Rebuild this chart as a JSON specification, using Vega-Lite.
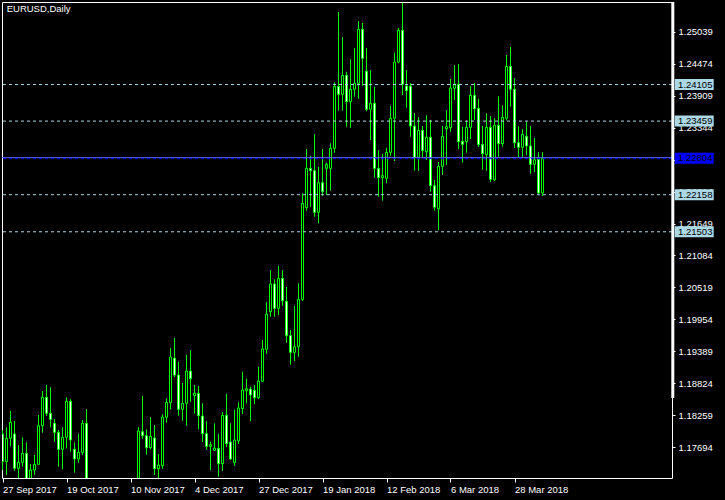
{
"$schema": "https://vega.github.io/schema/vega-lite/v6.json",
"width": 670, "height": 476,
"autosize": {"type": "none"},
"padding": {"left": 2, "top": 2, "right": 53, "bottom": 22},
"background": "#000000",
"config": {
"view": {"stroke": "#ffffff", "strokeWidth": 1},
"font": "Liberation Sans",
"axis": {"labelOverlap": false, "labelBound": false, "labelFlush": false, "grid": false, "domain": false},
"scale": {"continuousPadding": 0}
},
"title": {"text": "EURUSD,Daily", "anchor": "start", "frame": "group", "orient": "top", "offset": 0, "baseline": "alphabetic", "dy": 20.6, "dx": 4.7, "color": "#ffffff", "fontSize": 9.5, "fontWeight": "normal", "font": "Liberation Sans"},
"datasets": {
"candles": [
{"i":0,"o":1.17929,"h":1.17999,"l":1.17292,"c":1.17439},
{"i":1,"o":1.17439,"h":1.18047,"l":1.17204,"c":1.17853},
{"i":2,"o":1.17853,"h":1.18335,"l":1.17716,"c":1.18135},
{"i":3,"o":1.17929,"h":1.18158,"l":1.17280,"c":1.17322},
{"i":4,"o":1.17322,"h":1.17734,"l":1.17098,"c":1.17428},
{"i":5,"o":1.17428,"h":1.17870,"l":1.17351,"c":1.17587},
{"i":6,"o":1.17587,"h":1.17782,"l":1.16950,"c":1.17000},
{"i":7,"o":1.17000,"h":1.17398,"l":1.16880,"c":1.17292},
{"i":8,"o":1.17292,"h":1.17557,"l":1.17204,"c":1.17393},
{"i":9,"o":1.17393,"h":1.18264,"l":1.17393,"c":1.18075},
{"i":10,"o":1.18075,"h":1.18689,"l":1.17952,"c":1.18577},
{"i":11,"o":1.18577,"h":1.18795,"l":1.18247,"c":1.18294},
{"i":12,"o":1.18294,"h":1.18754,"l":1.18047,"c":1.18188},
{"i":13,"o":1.18118,"h":1.18194,"l":1.17792,"c":1.17959},
{"i":14,"o":1.17959,"h":1.17999,"l":1.17351,"c":1.17658},
{"i":15,"o":1.17658,"h":1.18047,"l":1.17305,"c":1.17870},
{"i":16,"o":1.17870,"h":1.18577,"l":1.17676,"c":1.18506},
{"i":17,"o":1.18506,"h":1.18542,"l":1.17616,"c":1.17822},
{"i":18,"o":1.17658,"h":1.17782,"l":1.17245,"c":1.17487},
{"i":19,"o":1.17487,"h":1.17929,"l":1.17421,"c":1.17605},
{"i":20,"o":1.17605,"h":1.18176,"l":1.17557,"c":1.18118},
{"i":21,"o":1.18118,"h":1.18370,"l":1.16400,"c":1.16540},
{"i":22,"o":1.16540,"h":1.16600,"l":1.15730,"c":1.16070},
{"i":23,"o":1.16070,"h":1.16460,"l":1.15970,"c":1.16240},
{"i":24,"o":1.16240,"h":1.16690,"l":1.16200,"c":1.16460},
{"i":25,"o":1.16460,"h":1.16700,"l":1.16190,"c":1.16190},
{"i":26,"o":1.16190,"h":1.16880,"l":1.16120,"c":1.16710},
{"i":27,"o":1.16710,"h":1.16870,"l":1.16070,"c":1.16090},
{"i":28,"o":1.16090,"h":1.16120,"l":1.15580,"c":1.16050},
{"i":29,"o":1.16050,"h":1.16060,"l":1.15540,"c":1.15870},
{"i":30,"o":1.15870,"h":1.16130,"l":1.15750,"c":1.15900},
{"i":31,"o":1.15900,"h":1.16560,"l":1.15900,"c":1.16410},
{"i":32,"o":1.16410,"h":1.16670,"l":1.16300,"c":1.16640},
{"i":33,"o":1.16640,"h":1.16720,"l":1.16300,"c":1.16600},
{"i":34,"o":1.16600,"h":1.18052,"l":1.16520,"c":1.17982},
{"i":35,"o":1.17969,"h":1.18600,"l":1.17845,"c":1.17898},
{"i":36,"o":1.17898,"h":1.18012,"l":1.17563,"c":1.17686},
{"i":37,"o":1.17686,"h":1.18229,"l":1.17651,"c":1.17888},
{"i":38,"o":1.17858,"h":1.18088,"l":1.17204,"c":1.17315},
{"i":39,"o":1.17315,"h":1.17575,"l":1.17133,"c":1.17381},
{"i":40,"o":1.17368,"h":1.18277,"l":1.17315,"c":1.18229},
{"i":41,"o":1.18224,"h":1.18559,"l":1.18128,"c":1.18489},
{"i":42,"o":1.18482,"h":1.19448,"l":1.18365,"c":1.19289},
{"i":43,"o":1.19272,"h":1.19625,"l":1.18936,"c":1.18971},
{"i":44,"o":1.18971,"h":1.19201,"l":1.18252,"c":1.18365},
{"i":45,"o":1.18365,"h":1.18830,"l":1.18164,"c":1.18471},
{"i":46,"o":1.18471,"h":1.19325,"l":1.18075,"c":1.19042},
{"i":47,"o":1.19042,"h":1.19413,"l":1.18499,"c":1.18906},
{"i":48,"o":1.18605,"h":1.18795,"l":1.18287,"c":1.18648},
{"i":49,"o":1.18648,"h":1.18777,"l":1.18012,"c":1.18252},
{"i":50,"o":1.18247,"h":1.18471,"l":1.17787,"c":1.17934},
{"i":51,"o":1.17934,"h":1.18158,"l":1.17646,"c":1.17711},
{"i":52,"o":1.17711,"h":1.17792,"l":1.17292,"c":1.17739},
{"i":53,"o":1.17640,"h":1.18118,"l":1.17633,"c":1.17681},
{"i":54,"o":1.17676,"h":1.17929,"l":1.17174,"c":1.17404},
{"i":55,"o":1.17404,"h":1.18317,"l":1.17275,"c":1.18259},
{"i":56,"o":1.18259,"h":1.18635,"l":1.17699,"c":1.17757},
{"i":57,"o":1.17787,"h":1.18118,"l":1.17469,"c":1.17487},
{"i":58,"o":1.17421,"h":1.18358,"l":1.17363,"c":1.17822},
{"i":59,"o":1.17805,"h":1.18489,"l":1.17752,"c":1.18388},
{"i":60,"o":1.18376,"h":1.19030,"l":1.18282,"c":1.18706},
{"i":61,"o":1.18694,"h":1.18906,"l":1.18471,"c":1.18729},
{"i":62,"o":1.18724,"h":1.18764,"l":1.18158,"c":1.18618},
{"i":63,"o":1.18701,"h":1.18795,"l":1.18459,"c":1.18570},
{"i":64,"o":1.18570,"h":1.19118,"l":1.18547,"c":1.18865},
{"i":65,"o":1.18860,"h":1.19590,"l":1.18853,"c":1.19431},
{"i":66,"o":1.19425,"h":1.20261,"l":1.19348,"c":1.20049},
{"i":67,"o":1.20090,"h":1.20827,"l":1.20002,"c":1.20580},
{"i":68,"o":1.20580,"h":1.20663,"l":1.20002,"c":1.20150},
{"i":69,"o":1.20150,"h":1.20898,"l":1.20032,"c":1.20680},
{"i":70,"o":1.20680,"h":1.20827,"l":1.20196,"c":1.20284},
{"i":71,"o":1.20274,"h":1.20527,"l":1.19542,"c":1.19666},
{"i":72,"o":1.19666,"h":1.19767,"l":1.19153,"c":1.19372},
{"i":73,"o":1.19372,"h":1.20191,"l":1.19219,"c":1.19471},
{"i":74,"o":1.19471,"h":1.20592,"l":1.19295,"c":1.20309},
{"i":75,"o":1.20309,"h":1.22183,"l":1.20279,"c":1.22006},
{"i":76,"o":1.21928,"h":1.22966,"l":1.21875,"c":1.22625},
{"i":77,"o":1.22625,"h":1.22842,"l":1.21946,"c":1.22582},
{"i":78,"o":1.22582,"h":1.23231,"l":1.21769,"c":1.21847},
{"i":79,"o":1.21847,"h":1.22653,"l":1.21652,"c":1.22370},
{"i":80,"o":1.22370,"h":1.22966,"l":1.22140,"c":1.22211},
{"i":81,"o":1.22625,"h":1.22723,"l":1.22153,"c":1.22695},
{"i":82,"o":1.22625,"h":1.23066,"l":1.22229,"c":1.22978},
{"i":83,"o":1.22978,"h":1.24144,"l":1.22900,"c":1.24074},
{"i":84,"o":1.24074,"h":1.25387,"l":1.23643,"c":1.23932},
{"i":85,"o":1.23932,"h":1.24945,"l":1.23643,"c":1.24268},
{"i":86,"o":1.24268,"h":1.24332,"l":1.23360,"c":1.23802},
{"i":87,"o":1.23802,"h":1.24551,"l":1.23342,"c":1.24021},
{"i":88,"o":1.24021,"h":1.24751,"l":1.23890,"c":1.24127},
{"i":89,"o":1.24127,"h":1.25228,"l":1.23855,"c":1.25081},
{"i":90,"o":1.25081,"h":1.25193,"l":1.24084,"c":1.24569},
{"i":91,"o":1.24339,"h":1.24751,"l":1.23632,"c":1.23667},
{"i":92,"o":1.23667,"h":1.24362,"l":1.23125,"c":1.23773},
{"i":93,"o":1.23773,"h":1.24067,"l":1.22458,"c":1.22625},
{"i":94,"o":1.22625,"h":1.22948,"l":1.22123,"c":1.22458},
{"i":95,"o":1.22458,"h":1.22877,"l":1.22052,"c":1.22494},
{"i":96,"o":1.22448,"h":1.22989,"l":1.22359,"c":1.22907},
{"i":97,"o":1.22907,"h":1.23726,"l":1.22847,"c":1.23508},
{"i":98,"o":1.23508,"h":1.24668,"l":1.22754,"c":1.24503},
{"i":99,"o":1.24503,"h":1.25104,"l":1.24480,"c":1.25064},
{"i":100,"o":1.25064,"h":1.25546,"l":1.23920,"c":1.24109},
{"i":101,"o":1.24079,"h":1.24362,"l":1.23696,"c":1.23996},
{"i":102,"o":1.24079,"h":1.24132,"l":1.23183,"c":1.23372},
{"i":103,"o":1.23372,"h":1.23602,"l":1.22582,"c":1.22819},
{"i":104,"o":1.22819,"h":1.23531,"l":1.22577,"c":1.23296},
{"i":105,"o":1.23296,"h":1.23372,"l":1.22819,"c":1.22936},
{"i":106,"o":1.22918,"h":1.23561,"l":1.22771,"c":1.23172},
{"i":107,"o":1.23172,"h":1.23478,"l":1.22211,"c":1.22317},
{"i":108,"o":1.22317,"h":1.22418,"l":1.21875,"c":1.21935},
{"i":109,"o":1.21910,"h":1.22736,"l":1.21534,"c":1.22660},
{"i":110,"o":1.22660,"h":1.23372,"l":1.22506,"c":1.23190},
{"i":111,"o":1.23324,"h":1.23655,"l":1.22683,"c":1.23360},
{"i":112,"o":1.23342,"h":1.24203,"l":1.23271,"c":1.24044},
{"i":113,"o":1.24038,"h":1.24450,"l":1.23832,"c":1.24109},
{"i":114,"o":1.24109,"h":1.24468,"l":1.22966,"c":1.23095},
{"i":115,"o":1.23102,"h":1.23360,"l":1.22723,"c":1.23049},
{"i":116,"o":1.23095,"h":1.23466,"l":1.22900,"c":1.23349},
{"i":117,"o":1.23349,"h":1.24079,"l":1.23142,"c":1.23915},
{"i":118,"o":1.23915,"h":1.24132,"l":1.23478,"c":1.23678},
{"i":119,"o":1.23685,"h":1.23849,"l":1.23001,"c":1.23042},
{"i":120,"o":1.23049,"h":1.23372,"l":1.22600,"c":1.22883},
{"i":121,"o":1.22865,"h":1.23597,"l":1.22582,"c":1.23349},
{"i":122,"o":1.23349,"h":1.23549,"l":1.22382,"c":1.22430},
{"i":123,"o":1.22418,"h":1.23508,"l":1.22395,"c":1.23384},
{"i":124,"o":1.23384,"h":1.23897,"l":1.22830,"c":1.23059},
{"i":125,"o":1.23059,"h":1.23738,"l":1.23006,"c":1.23526},
{"i":126,"o":1.23508,"h":1.24627,"l":1.23473,"c":1.24427},
{"i":127,"o":1.24427,"h":1.24768,"l":1.23713,"c":1.24021},
{"i":128,"o":1.24021,"h":1.24220,"l":1.22983,"c":1.23077},
{"i":129,"o":1.23077,"h":1.23367,"l":1.22824,"c":1.22996},
{"i":130,"o":1.22996,"h":1.23314,"l":1.22819,"c":1.23225},
{"i":131,"o":1.23190,"h":1.23448,"l":1.22854,"c":1.23019},
{"i":132,"o":1.23019,"h":1.23372,"l":1.22529,"c":1.22695},
{"i":133,"o":1.22695,"h":1.23160,"l":1.22559,"c":1.22776},
{"i":134,"o":1.22783,"h":1.22909,"l":1.22165,"c":1.22188},
{"i":135,"o":1.22188,"h":1.22909,"l":1.22135,"c":1.22802}
],
"levels": [{"p":1.24105},{"p":1.23459},{"p":1.22158},{"p":1.21503}],
"bid": [{"p":1.22804}],
"allLevels": [{"p":1.24105},{"p":1.23459},{"p":1.22804},{"p":1.22158},{"p":1.21503}]
},
"layer": [
{
"data": {"name": "candles"},
"mark": {"type": "rule", "color": "#00ff00", "strokeWidth": 1, "clip": true},
"encoding": {
"x": {"field": "i", "type": "quantitative",
"scale": {"domain": [-0.125, 167.375], "nice": false, "zero": false, "padding": 0},
"axis": {"orient": "bottom", "values": [0,16,32,48,64,80,96,112,128], "tickCount": 30,
"labelExpr": "['27 Sep 2017','19 Oct 2017','10 Nov 2017','4 Dec 2017','27 Dec 2017','19 Jan 2018','12 Feb 2018','6 Mar 2018','28 Mar 2018'][round(datum.value/16)]",
"labelAlign": "left", "labelBaseline": "top", "labelColor": "#ffffff", "labelFont": "Liberation Sans", "labelFontSize": 9.5, "labelPadding": 2, "labelOverlap": false,
"tickColor": "#ffffff", "tickSize": 4, "tickWidth": 1, "title": null}},
"y": {"field": "l", "type": "quantitative",
"scale": {"domain": [1.17151, 1.25564], "nice": false, "zero": false, "padding": 0},
"axis": {"orient": "right", "values": [1.17694,1.18259,1.18824,1.19389,1.19954,1.20519,1.21084,1.21649,1.22214,1.22779,1.23344,1.23909,1.24474,1.25039], "tickCount": 30,
"format": ".5f", "labelColor": "#ffffff", "labelFont": "Liberation Sans", "labelFontSize": 9.5, "labelPadding": 3, "labelOverlap": false, "labelSeparation": 0,
"tickColor": "#ffffff", "tickSize": 3, "title": null}},
"y2": {"field": "h"}
}
},
{
"data": {"name": "candles"},
"mark": {"type": "bar", "width": 2, "stroke": "#00ff00", "strokeWidth": 1, "clip": true},
"encoding": {
"x": {"field": "i", "type": "quantitative"},
"y": {"field": "o", "type": "quantitative"},
"y2": {"field": "c"},
"fill": {"condition": {"test": "datum.c < datum.o", "value": "#ffffff"}, "value": "#000000"}
}
},
{
"data": {"name": "levels"},
"mark": {"type": "rule", "color": "#add8e6", "strokeWidth": 1, "strokeDash": [3, 3]},
"encoding": {"y": {"field": "p", "type": "quantitative"}}
},
{
"data": {"name": "bid"},
"mark": {"type": "rule", "color": "#6464ff", "strokeWidth": 1, "yOffset": -0.5},
"encoding": {"y": {"field": "p", "type": "quantitative"}}
},
{
"data": {"name": "bid"},
"mark": {"type": "rule", "color": "#0000ff", "strokeWidth": 1, "strokeDash": [3, 3], "yOffset": 0.5},
"encoding": {"y": {"field": "p", "type": "quantitative"}}
},
{
"data": {"values": [{}]},
"mark": {"type": "rule", "color": "#ffffff", "strokeWidth": 3, "clip": false},
"encoding": {
"x": {"datum": 167.575, "type": "quantitative"},
"y": {"datum": 1.25564, "type": "quantitative"},
"y2": {"datum": 1.18565}}
},
{
"data": {"name": "levels"},
"mark": {"type": "bar", "fill": "#add8e6", "size": 11, "clip": false},
"encoding": {
"x": {"datum": 168.05, "type": "quantitative"},
"x2": {"datum": 177.8},
"y": {"field": "p", "type": "quantitative"}}
},
{
"data": {"name": "bid"},
"mark": {"type": "bar", "fill": "#0000ff", "size": 11, "clip": false},
"encoding": {
"x": {"datum": 168.05, "type": "quantitative"},
"x2": {"datum": 177.8},
"y": {"field": "p", "type": "quantitative"}}
},
{
"data": {"name": "allLevels"},
"mark": {"type": "text", "align": "left", "baseline": "middle", "color": "#000000", "font": "Liberation Sans", "fontSize": 9.5, "clip": false},
"encoding": {
"x": {"datum": 168.9, "type": "quantitative"},
"y": {"field": "p", "type": "quantitative"},
"text": {"field": "p", "type": "quantitative", "format": ".5f"}}
}
]
}
